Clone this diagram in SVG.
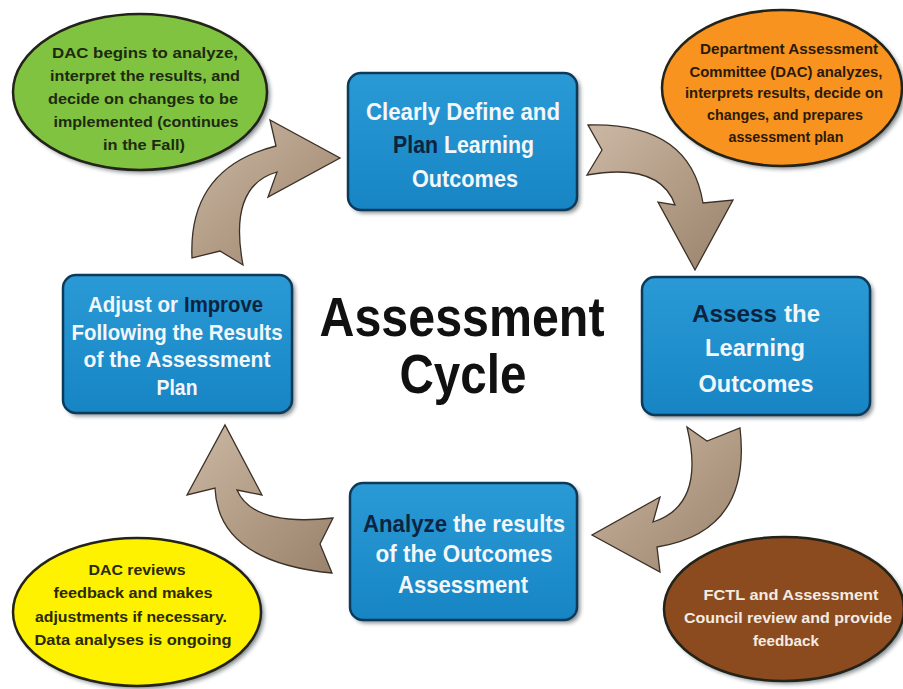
<svg xmlns="http://www.w3.org/2000/svg" width="903" height="689" viewBox="0 0 903 689">
<defs>
<linearGradient id="arrowGrad" x1="0" y1="0" x2="1" y2="1">
<stop offset="0" stop-color="#cbb8a4"/>
<stop offset="0.5" stop-color="#b39d87"/>
<stop offset="1" stop-color="#9a836d"/>
</linearGradient>
<linearGradient id="boxGrad" x1="0" y1="0" x2="0" y2="1">
<stop offset="0" stop-color="#2a9ad6"/>
<stop offset="1" stop-color="#1785c4"/>
</linearGradient>
<filter id="soft" x="-10%" y="-10%" width="120%" height="120%">
<feGaussianBlur stdDeviation="2"/>
</filter>
</defs>
<style>
.box{fill:url(#boxGrad);stroke:#0e3a5a;stroke-width:2.5}
.shadow{fill:#1a2a33;opacity:0.55;filter:url(#soft)}
.ell{stroke:#23231a;stroke-width:2.5}
.arrow{fill:url(#arrowGrad);stroke:#3b3127;stroke-width:1.3;stroke-linejoin:miter}
.bt{font-family:"Liberation Sans",Arial,sans-serif;font-weight:bold;fill:#f3f7fa;text-anchor:middle}
.st{text-anchor:start}
.dk{fill:#0c2440}
.et{font-family:"Liberation Sans",Arial,sans-serif;font-weight:bold;text-anchor:middle;font-size:15.5px}
.title{font-family:"Liberation Sans",Arial,sans-serif;font-weight:bold;fill:#111;text-anchor:middle;font-size:56px}
</style>
<rect width="903" height="689" fill="#ffffff"/>

<g id="connectors">
<path class="arrow" d="M 192 258 Q 188 168 276 146 L 270 120 L 340 158 L 268 197 L 277 172 Q 228 186 243 265 L 220 251 Z"/>
<path class="arrow" d="M 588 125 Q 690 122 703 203 L 733 200 L 695 270 L 658 202 L 675 205 Q 660 162 587 175 L 602 150 Z"/>
<path class="arrow" d="M 740 428 Q 752 532 657 547 L 660 572 L 592 535 L 660 497 L 653 522 Q 706 505 687 427 L 707 441 Z"/>
<path class="arrow" d="M 333 518 Q 253 527 237 490 L 262 495 L 225 425 L 187 495 L 215 488 Q 218 562 332 573 L 320 544 Z"/>
</g>

<g id="title">
<text class="title" x="462" y="336" textLength="285" lengthAdjust="spacingAndGlyphs">Assessment</text>
<text class="title" x="463" y="393" textLength="127" lengthAdjust="spacingAndGlyphs">Cycle</text>
</g>

<g id="node-define">
<rect class="shadow" x="351" y="76" width="229" height="137" rx="13"/>
<rect class="box" x="348" y="73" width="229" height="137" rx="13"/>
<text class="bt" font-size="24" x="463" y="120" textLength="194" lengthAdjust="spacingAndGlyphs">Clearly Define and</text>
<text class="bt st dk" font-size="24" x="393" y="153" textLength="45" lengthAdjust="spacingAndGlyphs">Plan</text>
<text class="bt st" font-size="24" x="444" y="153" textLength="90" lengthAdjust="spacingAndGlyphs">Learning</text>
<text class="bt" font-size="24" x="465" y="187" textLength="106" lengthAdjust="spacingAndGlyphs">Outcomes</text>
</g>

<g id="node-assess">
<rect class="shadow" x="645" y="280" width="228" height="138" rx="13"/>
<rect class="box" x="642" y="277" width="228" height="138" rx="13"/>
<text class="bt st dk" font-size="24" x="692" y="322" textLength="85" lengthAdjust="spacingAndGlyphs">Assess</text>
<text class="bt st" font-size="24" x="784" y="322" textLength="36" lengthAdjust="spacingAndGlyphs">the</text>
<text class="bt" font-size="24" x="755" y="356" textLength="100" lengthAdjust="spacingAndGlyphs">Learning</text>
<text class="bt" font-size="24" x="756" y="392" textLength="115" lengthAdjust="spacingAndGlyphs">Outcomes</text>
</g>

<g id="node-analyze">
<rect class="shadow" x="353" y="486" width="227" height="137" rx="13"/>
<rect class="box" x="350" y="483" width="227" height="137" rx="13"/>
<text class="bt st dk" font-size="23" x="363" y="532" textLength="84" lengthAdjust="spacingAndGlyphs">Analyze</text>
<text class="bt st" font-size="23" x="453" y="532" textLength="112" lengthAdjust="spacingAndGlyphs">the results</text>
<text class="bt" font-size="23" x="464" y="562" textLength="177" lengthAdjust="spacingAndGlyphs">of the Outcomes</text>
<text class="bt" font-size="23" x="463" y="593" textLength="130" lengthAdjust="spacingAndGlyphs">Assessment</text>
</g>

<g id="node-adjust">
<rect class="shadow" x="66" y="278" width="229" height="138" rx="13"/>
<rect class="box" x="63" y="275" width="229" height="138" rx="13"/>
<text class="bt st" font-size="22" x="88" y="312" textLength="90" lengthAdjust="spacingAndGlyphs">Adjust or</text>
<text class="bt st dk" font-size="22" x="184" y="312" textLength="79" lengthAdjust="spacingAndGlyphs">Improve</text>
<text class="bt" font-size="22" x="177" y="340" textLength="211" lengthAdjust="spacingAndGlyphs">Following the Results</text>
<text class="bt" font-size="22" x="177" y="367" textLength="187" lengthAdjust="spacingAndGlyphs">of the Assessment</text>
<text class="bt" font-size="22" x="177" y="395" textLength="41" lengthAdjust="spacingAndGlyphs">Plan</text>
</g>

<g id="note-green">
<ellipse class="shadow" cx="143" cy="95" rx="127" ry="78"/>
<ellipse class="ell" cx="140" cy="92" rx="127" ry="78" fill="#80c341"/>
<g class="et" fill="#1e2a10">
<text x="145" y="58" textLength="186" lengthAdjust="spacingAndGlyphs">DAC begins to analyze,</text>
<text x="145" y="81" textLength="190" lengthAdjust="spacingAndGlyphs">interpret the results, and</text>
<text x="143" y="104" textLength="190" lengthAdjust="spacingAndGlyphs">decide on changes to be</text>
<text x="146" y="127" textLength="185" lengthAdjust="spacingAndGlyphs">implemented (continues</text>
<text x="144" y="150" textLength="82" lengthAdjust="spacingAndGlyphs">in the Fall)</text>
</g>
</g>

<g id="note-orange">
<ellipse class="shadow" cx="785" cy="91" rx="120" ry="78"/>
<ellipse class="ell" cx="782" cy="88" rx="120" ry="78" fill="#f7931e"/>
<g class="et" fill="#2a1a0a" font-size="14.5">
<text x="789" y="54" textLength="178" lengthAdjust="spacingAndGlyphs">Department Assessment</text>
<text x="786" y="77" textLength="193" lengthAdjust="spacingAndGlyphs">Committee (DAC) analyzes,</text>
<text x="784" y="98" textLength="198" lengthAdjust="spacingAndGlyphs">interprets results, decide on</text>
<text x="785" y="120" textLength="156" lengthAdjust="spacingAndGlyphs">changes, and prepares</text>
<text x="786" y="142" textLength="115" lengthAdjust="spacingAndGlyphs">assessment plan</text>
</g>
</g>

<g id="note-yellow">
<ellipse class="shadow" cx="140" cy="615" rx="124" ry="74"/>
<ellipse class="ell" cx="137" cy="612" rx="124" ry="74" fill="#fff200"/>
<g class="et" fill="#2a2a05">
<text x="137" y="575" textLength="97" lengthAdjust="spacingAndGlyphs">DAC reviews</text>
<text x="133" y="598" textLength="159" lengthAdjust="spacingAndGlyphs">feedback and makes</text>
<text x="131" y="622" textLength="192" lengthAdjust="spacingAndGlyphs">adjustments if necessary.</text>
<text x="133" y="645" textLength="197" lengthAdjust="spacingAndGlyphs">Data analyses is ongoing</text>
</g>
</g>

<g id="note-brown">
<ellipse class="shadow" cx="787" cy="612" rx="120" ry="72"/>
<ellipse class="ell" cx="784" cy="609" rx="120" ry="72" fill="#8b4b1f"/>
<g class="et" fill="#f4ece2" font-size="15.5">
<text x="791" y="600" textLength="175" lengthAdjust="spacingAndGlyphs">FCTL and Assessment</text>
<text x="788" y="623" textLength="208" lengthAdjust="spacingAndGlyphs">Council review and provide</text>
<text x="786" y="646" textLength="66" lengthAdjust="spacingAndGlyphs">feedback</text>
</g>
</g>
</svg>
